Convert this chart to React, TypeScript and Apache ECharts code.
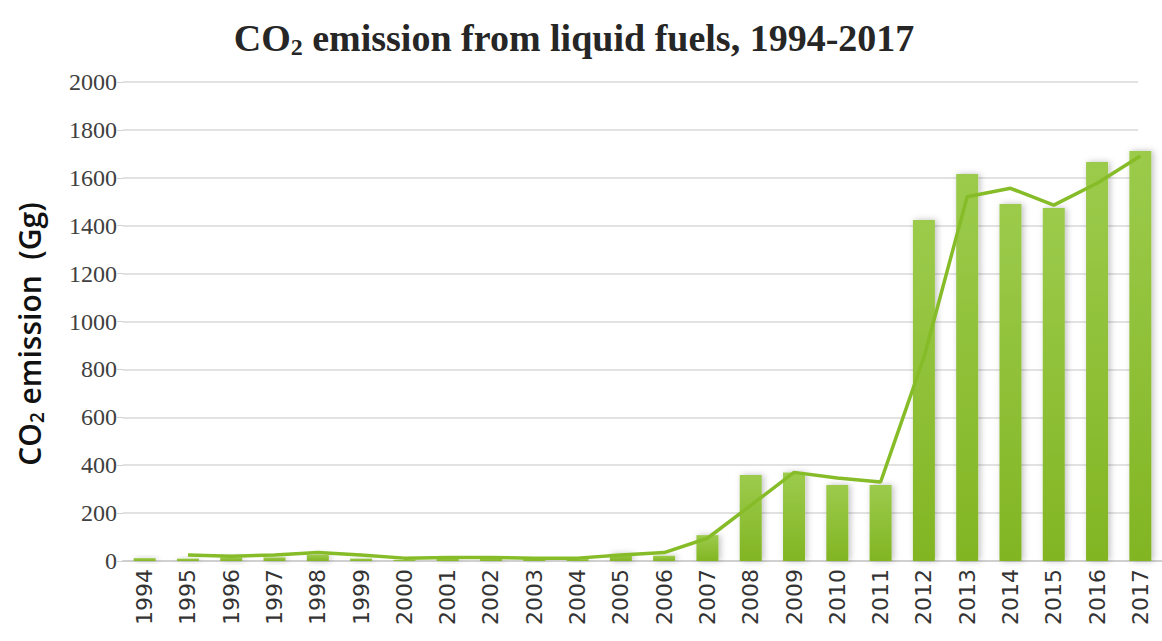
import React, { useEffect, useRef } from "react";
import * as echarts from "echarts";

const years = ["1994","1995","1996","1997","1998","1999","2000","2001","2002","2003","2004","2005","2006","2007","2008","2009","2010","2011","2012","2013","2014","2015","2016","2017"];
const barValues = [12, 10, 15, 15, 25, 10, 5, 10, 10, 8, 8, 30, 22, 108, 359, 369, 317, 317, 1424, 1616, 1491, 1474, 1666, 1712];
const lineValues = [null, 25, 20, 25, 35, 25, 12, 15, 15, 12, 12, 25, 35, 95, 232, 370, 347, 330, 850, 1521, 1556, 1486, 1577, 1691];
const yTicks = { min: 0, max: 2000, interval: 200 };

export default function App() {
  const ref = useRef<HTMLDivElement>(null);
  useEffect(() => {
    const chart = echarts.init(ref.current!, null, { renderer: "svg" });
    const yBase = {
      type: "value",
      min: yTicks.min,
      max: yTicks.max,
      interval: yTicks.interval,
    };
    chart.setOption({
      animation: false,
      backgroundColor: "#ffffff",
      grid: [
        { left: 123, width: 1044, top: 82, bottom: 80 },
        { left: 123, right: 24, top: 82, bottom: 80 },
      ],
      xAxis: [
        {
          type: "category",
          data: years,
          gridIndex: 0,
          axisLine: { show: true, lineStyle: { color: "#d0d0d0", width: 2 } },
          axisTick: { show: false },
          axisLabel: {
            rotate: 90,
            fontFamily: "DejaVu Sans",
            fontSize: 22,
            color: "#333333",
            margin: 8,
          },
        },
        {
          type: "category",
          data: years,
          gridIndex: 1,
          show: false,
        },
      ],
      yAxis: [
        {
          ...yBase,
          gridIndex: 0,
          axisLine: { show: false },
          axisTick: { show: true, length: 6, lineStyle: { color: "#d0d0d0" } },
          splitLine: { show: false },
          axisLabel: {
            fontFamily: "Liberation Serif",
            fontSize: 24,
            color: "#404040",
            margin: 6,
            formatter: (v: number) => String(v),
          },
        },
        {
          ...yBase,
          gridIndex: 1,
          axisLine: { show: false },
          axisTick: { show: false },
          axisLabel: { show: false },
          splitLine: { show: true, lineStyle: { color: "#d9d9d9", width: 1.5 } },
        },
      ],
      graphic: [
        {
          type: "text",
          x: 574,
          y: 38,
          style: {
            text: "CO{sub|2} emission from liquid fuels, 1994-2017",
            fontFamily: "Liberation Serif",
            fontWeight: "bold",
            fontSize: 38,
            fill: "#262626",
            align: "center",
            verticalAlign: "middle",
            rich: {
              sub: {
                fontFamily: "Liberation Serif",
                fontWeight: "bold",
                fontSize: 24,
                fill: "#262626",
                padding: [18, 0, 0, 0],
              },
            },
          },
        },
        {
          type: "text",
          x: 29,
          y: 334,
          rotation: Math.PI / 2,
          style: {
            text: "CO{sub|2} emission  (Gg)",
            fontFamily: "Open Sans",
            fontWeight: 600,
            fontSize: 30,
            fill: "#111111",
            align: "center",
            verticalAlign: "middle",
            rich: {
              sub: {
                fontFamily: "Open Sans",
                fontWeight: 600,
                fontSize: 19,
                fill: "#111111",
                padding: [16, 0, 0, 0],
              },
            },
          },
        },
      ],
      series: [
        {
          type: "bar",
          data: barValues,
          xAxisIndex: 0,
          yAxisIndex: 0,
          barWidth: 22,
          itemStyle: {
            color: new echarts.graphic.LinearGradient(0, 0, 0, 1, [
              { offset: 0, color: "#9ccb4c" },
              { offset: 1, color: "#82b523" },
            ]),
            shadowBlur: 6,
            shadowColor: "rgba(0,0,0,0.25)",
            shadowOffsetX: 2,
            shadowOffsetY: 0,
          },
          z: 2,
        },
        {
          type: "line",
          data: lineValues,
          xAxisIndex: 0,
          yAxisIndex: 0,
          symbol: "none",
          smooth: false,
          lineStyle: { color: "#86bc28", width: 3.5 },
          z: 3,
        },
      ],
    });
    return () => chart.dispose();
  }, []);
  return <div ref={ref} style={{ width: 1162, height: 641, position: "absolute", left: 0, top: 0 }} />;
}
